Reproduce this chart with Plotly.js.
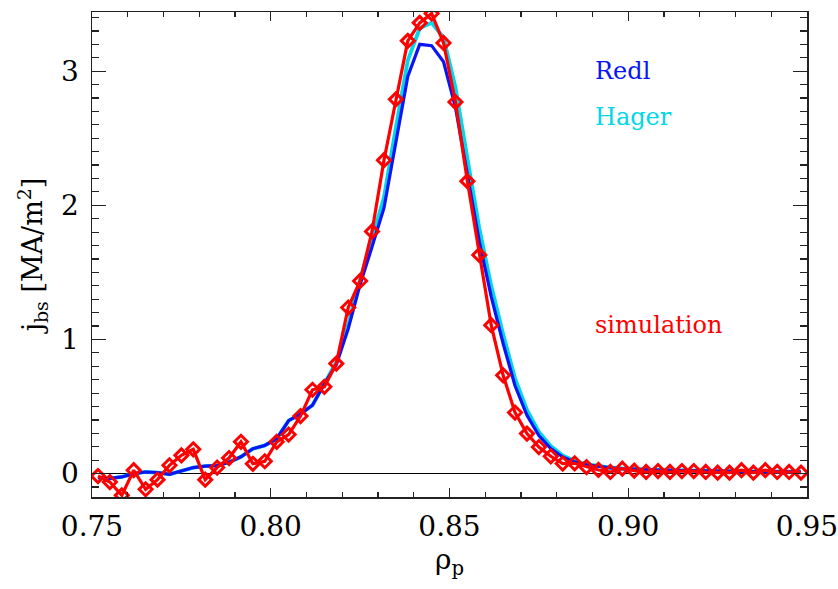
<!DOCTYPE html>
<html>
<head>
<meta charset="utf-8">
<script src="https://cdn.plot.ly/plotly-3.0.1.min.js"></script>
<style>html,body{margin:0;padding:0;background:#fff;}#chart{width:838px;height:589px;}</style>
</head>
<body>
<div id="chart"></div>
<script>
// radial coordinate rho_p (grid of the curves)
const rho = [0.75167,0.75500,0.75833,0.76167,0.76500,0.76833,0.77167,0.77500,0.77833,0.78167,
             0.78500,0.78833,0.79167,0.79500,0.79833,0.80167,0.80500,0.80833,0.81167,0.81500,
             0.81833,0.82167,0.82500,0.82833,0.83167,0.83500,0.83833,0.84167,0.84500,0.84833,
             0.85167,0.85500,0.85833,0.86167,0.86500,0.86833,0.87167,0.87500,0.87833,0.88167,
             0.88500,0.88833,0.89167,0.89500,0.89833,0.90167,0.90500,0.90833,0.91167,0.91500,
             0.91833,0.92167,0.92500,0.92833,0.93167,0.93500,0.93833,0.94167,0.94500,0.94833];

// simulation (red diamonds)
const simulation = [-0.018,-0.063,-0.162,0.025,-0.117,-0.045,0.062,0.136,0.181,-0.045,
                    0.045,0.116,0.237,0.073,0.092,0.237,0.291,0.429,0.625,0.647,
                    0.82,1.238,1.436,1.805,2.336,2.79,3.226,3.36,3.43,3.21,
                    2.77,2.18,1.63,1.106,0.733,0.455,0.298,0.198,0.129,0.075,
                    0.077,0.049,0.027,0.012,0.037,0.022,0.012,0.019,0.012,0.019,
                    0.019,0.012,0.007,0.007,0.025,0.007,0.025,0.012,0.012,0.007];

// Redl formula (blue)
const redl = [-0.03,-0.035,-0.025,0.0,0.012,0.008,-0.005,0.02,0.045,0.055,
              0.06,0.085,0.125,0.185,0.21,0.26,0.395,0.445,0.51,0.67,
              0.81,1.08,1.41,1.69,1.98,2.47,2.96,3.20,3.19,3.07,
              2.73,2.23,1.73,1.32,0.97,0.655,0.435,0.283,0.187,0.124,
              0.087,0.066,0.053,0.043,0.036,0.031,0.028,0.026,0.024,0.022,
              0.02,0.019,0.018,0.017,0.016,0.015,0.015,0.014,0.014,0.013];

// Hager formula (cyan)
const hager = [-0.03,-0.035,-0.025,0.0,0.012,0.008,-0.005,0.02,0.045,0.055,
               0.06,0.085,0.125,0.185,0.21,0.26,0.395,0.445,0.51,0.67,
               0.83,1.11,1.45,1.75,2.06,2.58,3.08,3.32,3.36,3.25,
               2.88,2.35,1.83,1.40,1.04,0.71,0.475,0.31,0.205,0.135,
               0.094,0.07,0.056,0.045,0.038,0.033,0.030,0.028,0.026,0.024,
               0.022,0.021,0.020,0.019,0.018,0.017,0.017,0.016,0.016,0.015];

const xTicks = [0.75,0.80,0.85,0.90,0.95];
const xTickText = ['0.75','0.80','0.85','0.90','0.95'];
const yTicks = [0,1,2,3];
const yTickText = ['0','1','2','3'];

const labels = ['Redl','Hager','simulation'];
const labelY = [3.0,2.656,1.107];
const labelX = 0.8901;

const FONT = 'DejaVu Serif';
const BLUE = 'rgb(10,20,245)';
const CYAN = 'rgb(0,215,232)';
const RED = 'rgb(255,0,0)';

const traces = [
  {x: rho, y: hager, mode: 'lines', line: {color: CYAN, width: 3.8}, hoverinfo: 'skip'},
  {x: rho, y: redl, mode: 'lines', line: {color: BLUE, width: 3.2}, hoverinfo: 'skip'},
  {x: rho, y: simulation, mode: 'lines+markers', line: {color: RED, width: 3.2},
   marker: {symbol: 'diamond-open', size: 10, color: RED, line: {color: RED, width: 3}},
   cliponaxis: true, hoverinfo: 'skip'}
];

const labelColors = [BLUE, CYAN, RED];
const annotations = labels.map((t, i) => ({
  x: labelX, y: labelY[i], xref: 'x', yref: 'y', text: t, showarrow: false,
  xanchor: 'left', yanchor: 'middle',
  font: {family: FONT, size: 24, color: labelColors[i]}
}));

const axisCommon = {
  showline: true, linecolor: '#222', linewidth: 1.5, mirror: 'allticks',
  ticks: 'inside', tickcolor: '#222', tickwidth: 1.2, showgrid: false,
  ticklabeloverflow: 'allow',
  tickfont: {family: FONT, size: 28, color: '#000'}
};

const layout = {
  width: 838, height: 589,
  margin: {l: 92, r: 31, t: 12, b: 92, pad: 0},
  paper_bgcolor: '#fff', plot_bgcolor: '#fff',
  showlegend: false,
  font: {family: FONT, color: '#000'},
  xaxis: Object.assign({}, axisCommon, {
    range: [0.75, 0.95], tickmode: 'array', tickvals: xTicks, ticktext: xTickText,
    ticklen: 9, zeroline: false, ticklabelstandoff: 4,
    minor: {dtick: 0.01, tick0: 0.75, ticks: 'inside', ticklen: 5, tickcolor: '#222', tickwidth: 1.2, showgrid: false},
    title: {text: 'ρ<sub>p</sub>', font: {family: FONT, size: 28, color: '#000'}, standoff: 6}
  }),
  yaxis: Object.assign({}, axisCommon, {
    range: [-0.1745, 3.441], tickmode: 'array', tickvals: yTicks, ticktext: yTickText,
    ticklen: 14, zeroline: true, zerolinecolor: '#000', zerolinewidth: 1.2,
    ticklabelstandoff: 6,
    minor: {dtick: 0.1, tick0: 0, ticks: 'inside', ticklen: 7, tickcolor: '#222', tickwidth: 1.2, showgrid: false},
    title: {text: 'j<sub>bs</sub> [MA/m<sup>2</sup>]', font: {family: FONT, size: 27, color: '#000'}, standoff: 10}
  }),
  annotations: annotations
};

Plotly.newPlot('chart', traces, layout, {displayModeBar: false, staticPlot: true});
</script>
</body>
</html>
